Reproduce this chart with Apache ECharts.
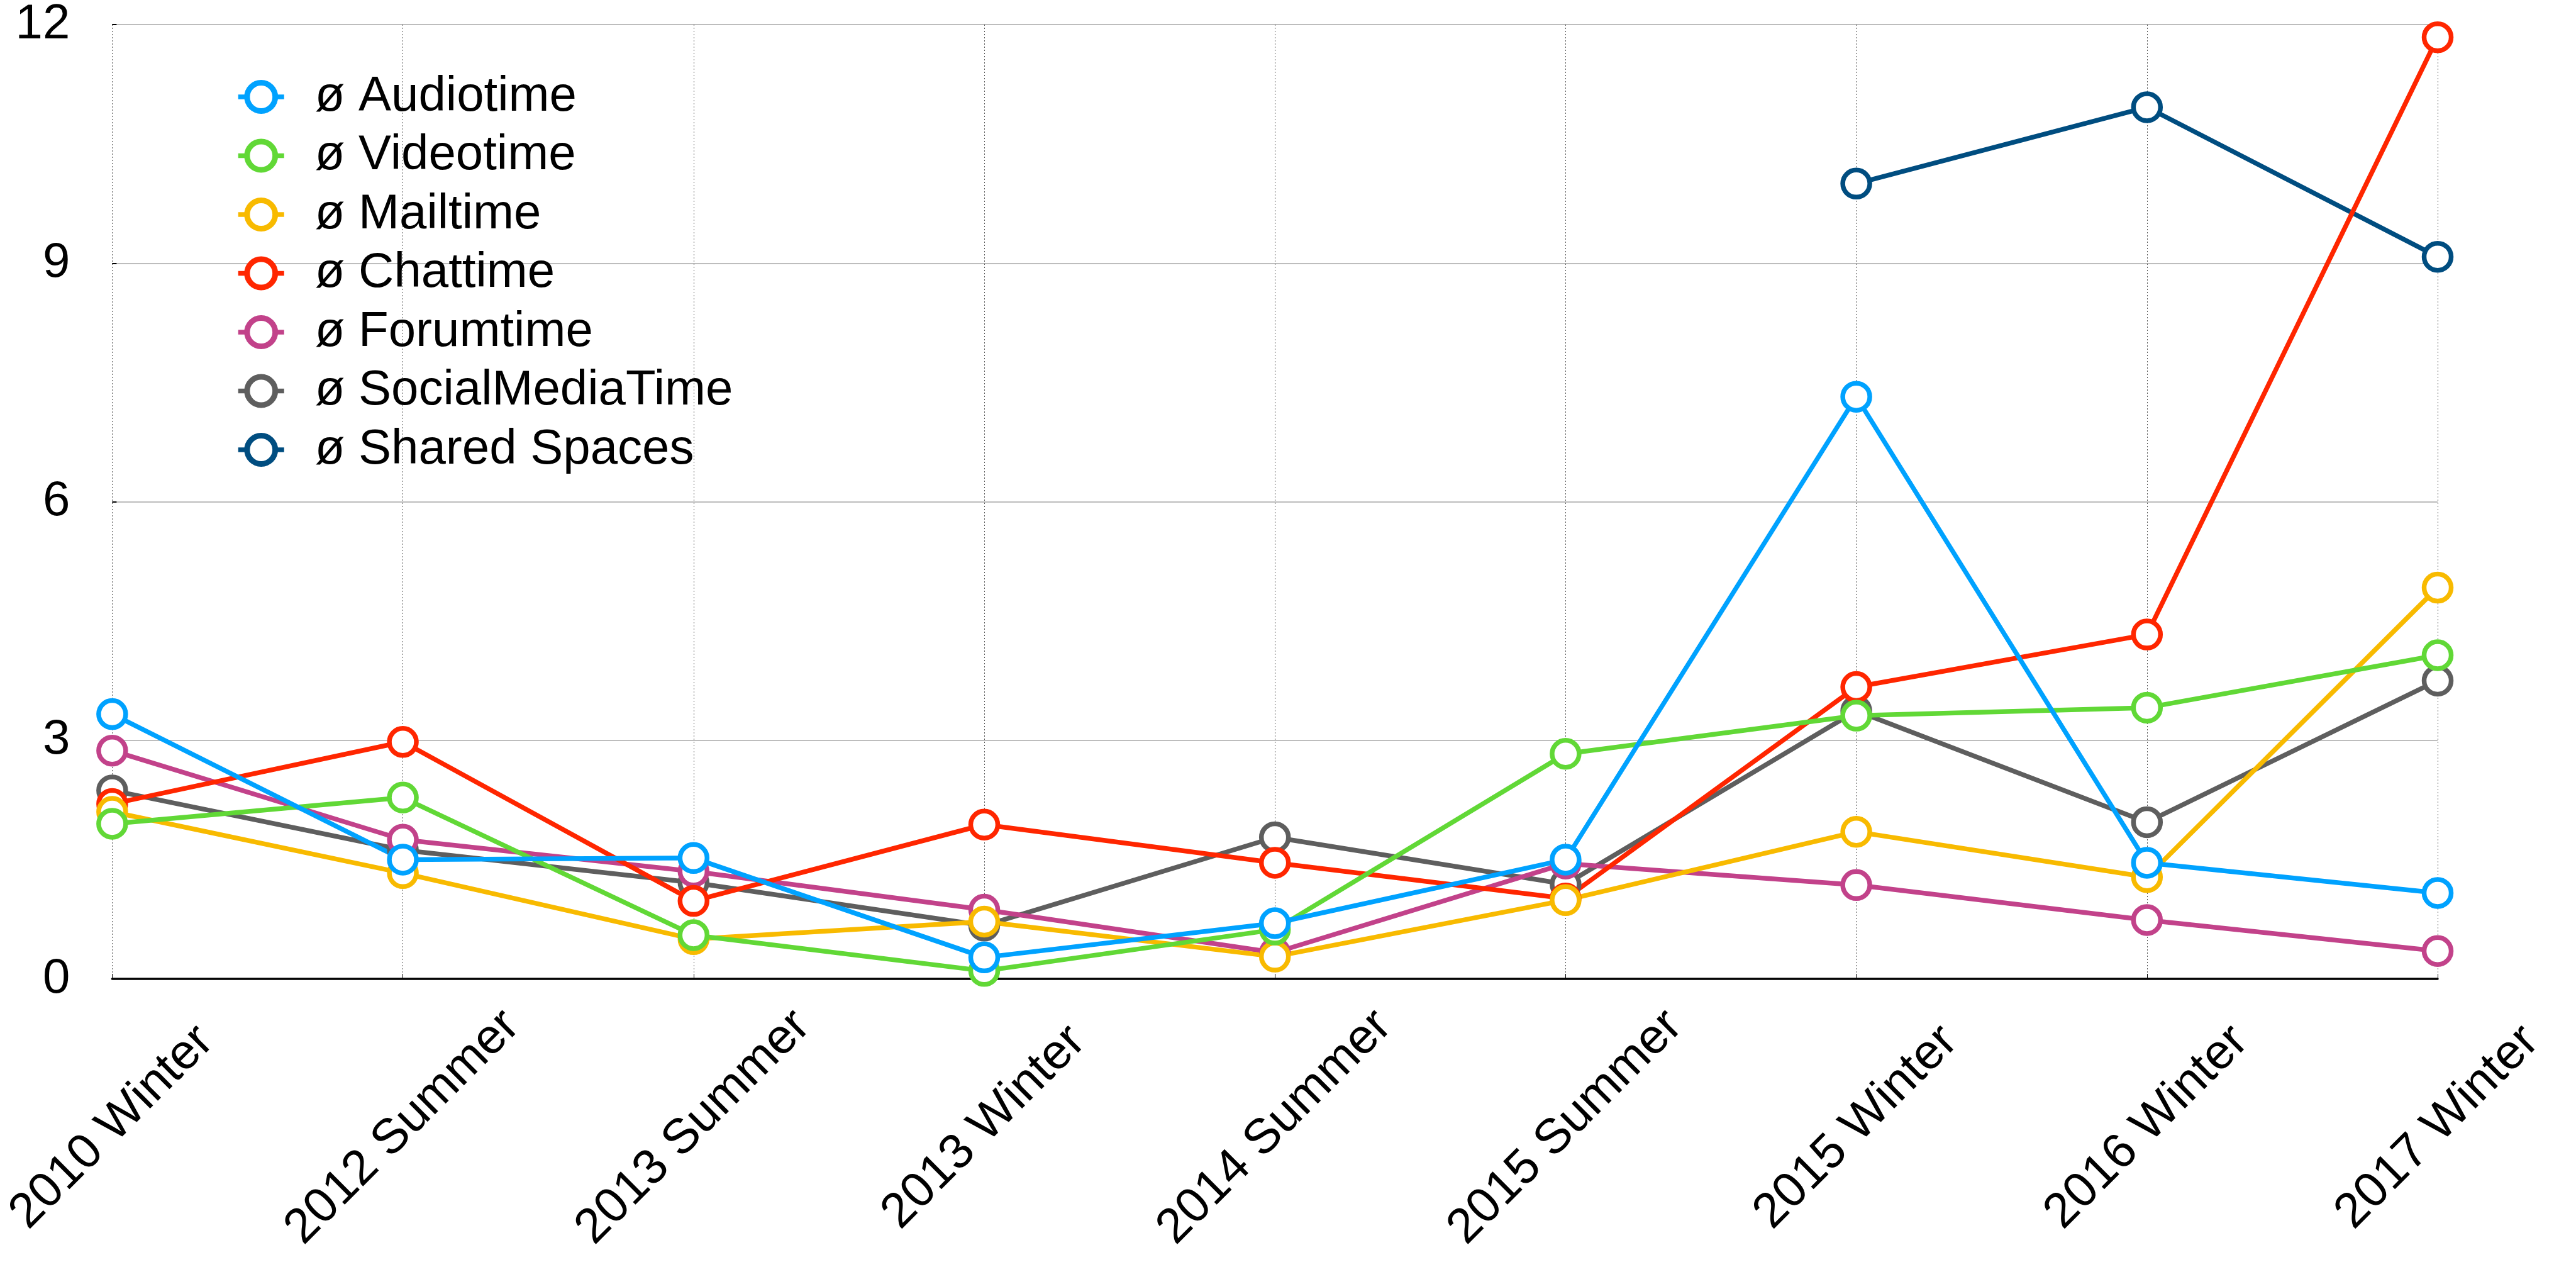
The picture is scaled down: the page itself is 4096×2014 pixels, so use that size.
<!DOCTYPE html>
<html>
<head>
<meta charset="utf-8">
<script src="https://cdn.jsdelivr.net/npm/echarts@6/dist/echarts.min.js"></script>
<style>
  html, body { margin: 0; padding: 0; background: #fff; }
  #chart { width: 4096px; height: 2014px; }
</style>
</head>
<body>
<div id="chart"></div>
<script>
const categories = ['2010 Winter', '2012 Summer', '2013 Summer', '2013 Winter', '2014 Summer',
  '2015 Summer', '2015 Winter', '2016 Winter', '2017 Winter'];
const yTicks = [0, 3, 6, 9, 12];

const audiotime = [3.33, 1.50, 1.52, 0.27, 0.70, 1.50, 7.32, 1.46, 1.08];
const videotime = [1.95, 2.28, 0.55, 0.10, 0.62, 2.83, 3.31, 3.41, 4.07];
const mailtime = [2.10, 1.33, 0.50, 0.72, 0.28, 0.99, 1.85, 1.28, 4.92];
const chattime = [2.20, 2.98, 0.98, 1.94, 1.46, 1.01, 3.67, 4.33, 11.84];
const forumtime = [2.87, 1.75, 1.35, 0.87, 0.33, 1.45, 1.18, 0.74, 0.35];
const socialMediaTime = [2.37, 1.62, 1.21, 0.67, 1.78, 1.19, 3.37, 1.97, 3.75];
const sharedSpaces = [null, null, null, null, null, null, 10.00, 10.96, 9.08];

const seriesNames = ['ø Audiotime', 'ø Videotime', 'ø Mailtime', 'ø Chattime',
  'ø Forumtime', 'ø SocialMediaTime', 'ø Shared Spaces'];
const seriesData = [audiotime, videotime, mailtime, chattime, forumtime, socialMediaTime, sharedSpaces];
const colors = ['#00A2FF', '#61D836', '#F8BA00', '#FF2600', '#C2428A', '#5E5E5E', '#004D80'];

const FONT = 'Liberation Sans';

// drawn in reverse so Audiotime ends up on top
let series = [];
for (let i = seriesNames.length - 1; i >= 0; i--) {
  series.push({
    name: seriesNames[i],
    type: 'line',
    data: seriesData[i],
    symbol: 'circle',
    symbolSize: 43,
    connectNulls: false,
    lineStyle: { color: colors[i], width: 7.5 },
    itemStyle: { color: '#fff', borderColor: colors[i], borderWidth: 7.5 },
    emphasis: { disabled: true }
  });
}

let chart = echarts.init(document.getElementById('chart'));
chart.setOption({
  animation: false,
  backgroundColor: '#fff',
  textStyle: { fontFamily: FONT },
  grid: { left: 177, right: 220, top: 39, bottom: 458, containLabel: false },
  legend: {
    data: seriesNames,
    orient: 'vertical',
    left: 375,
    top: 115,
    padding: 0,
    itemWidth: 73,
    itemHeight: 56,
    itemGap: 15.5,
    textStyle: { fontFamily: FONT, fontSize: 78, color: '#000', lineHeight: 56, padding: [0, 0, 0, 44] },
    itemStyle: { borderWidth: 9 },
    lineStyle: { width: 7.5 }
  },
  xAxis: {
    type: 'category',
    data: categories,
    boundaryGap: false,
    axisLine: { lineStyle: { color: '#000', width: 3.5 } },
    axisTick: { show: true, inside: true, length: 8, lineStyle: { color: '#000', width: 1 } },
    splitLine: { show: true, lineStyle: { color: '#555', width: 1, type: [2, 3] } },
    axisLabel: {
      interval: 0,
      rotate: 45,
      align: 'center',
      verticalAlign: 'middle',
      margin: 236,
      fontFamily: FONT,
      fontSize: 78,
      color: '#000'
    }
  },
  yAxis: {
    type: 'value',
    min: yTicks[0],
    max: yTicks[yTicks.length - 1],
    interval: 3,
    axisLine: { show: false },
    axisTick: { show: true, inside: true, length: 7, lineStyle: { color: '#000', width: 2 } },
    splitLine: { show: true, lineStyle: { color: '#BDBDBD', width: 2 } },
    axisLabel: { margin: 67, fontFamily: FONT, fontSize: 78, color: '#000' }
  },
  series: series
});
</script>
</body>
</html>
